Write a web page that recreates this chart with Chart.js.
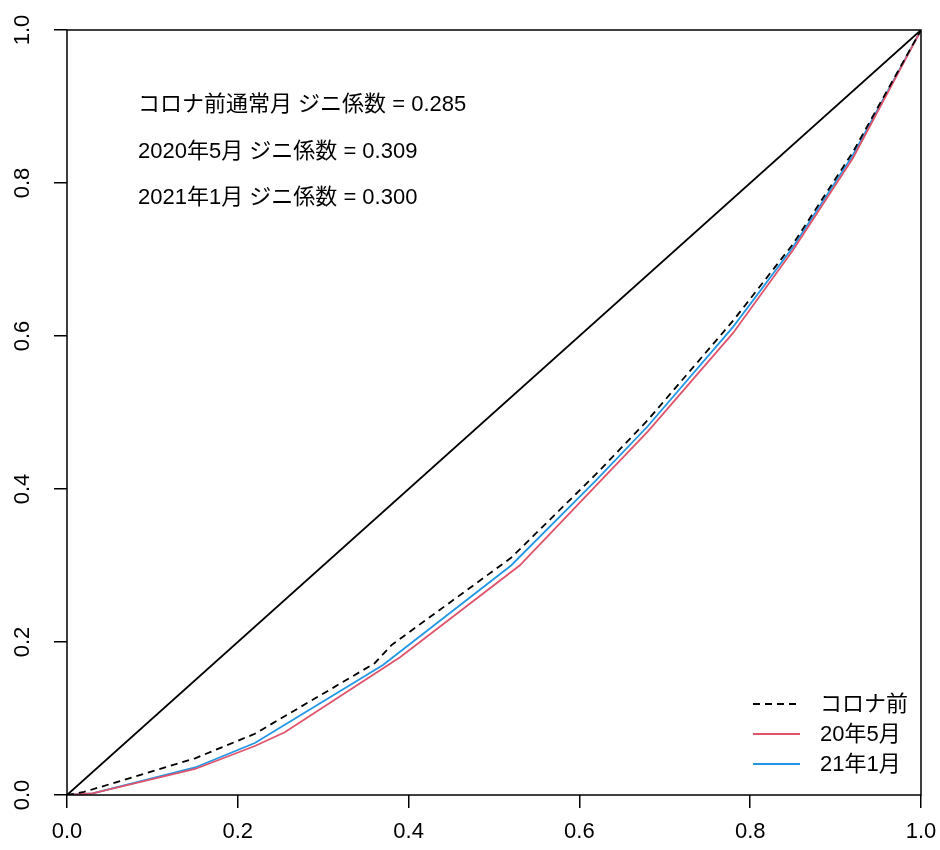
<!DOCTYPE html>
<html>
<head>
<meta charset="utf-8">
<script src="https://cdn.jsdelivr.net/npm/chart.js@4"></script>
<style>
  html, body { margin: 0; padding: 0; background: #fff; }
  #wrap { width: 940px; height: 850px; }
</style>
</head>
<body>
<div id="wrap"><canvas id="lorenz" width="940" height="850"></canvas></div>
<script>
// Lorenz curves: cumulative share of population (x) vs cumulative share of income (y)
const equalityX = [0, 1];
const equalityY = [0, 1];

const preCovidX = [0, 0.02, 0.15, 0.22, 0.36, 0.38, 0.52, 0.62, 0.68, 0.78, 0.85, 0.92, 1.0];
const preCovidY = [0, 0.004, 0.048, 0.080, 0.172, 0.196, 0.310, 0.420, 0.490, 0.620, 0.720, 0.840, 1.0];

const may2020X = [0, 0.03, 0.15, 0.22, 0.255, 0.39, 0.53, 0.62, 0.68, 0.78, 0.85, 0.92, 1.0];
const may2020Y = [0, 0.002, 0.034, 0.064, 0.082, 0.180, 0.300, 0.405, 0.475, 0.604, 0.712, 0.832, 1.0];

const jan2021X = [0, 0.03, 0.15, 0.22, 0.37, 0.52, 0.62, 0.68, 0.78, 0.85, 0.92, 1.0];
const jan2021Y = [0, 0.002, 0.036, 0.068, 0.170, 0.300, 0.412, 0.482, 0.612, 0.716, 0.836, 1.0];

const seriesLabels = ['コロナ前', '20年5月', '21年1月'];
const giniLabels = [
  'コロナ前通常月 ジニ係数 = 0.285',
  '2020年5月 ジニ係数 = 0.309',
  '2021年1月 ジニ係数 = 0.300'
];

const xTicks = [0, 0.2, 0.4, 0.6, 0.8, 1.0];
const yTicks = [0, 0.2, 0.4, 0.6, 0.8, 1.0];

const toPoints = (xs, ys) => xs.map((x, i) => ({ x: x, y: ys[i] }));

const FONT = '"Liberation Sans", Arial, "Noto Sans CJK JP", sans-serif';

// Frame, Gini annotations and the legend box in the lower right
const overlay = {
  id: 'overlay',
  afterDraw(chart) {
    const ctx = chart.ctx;
    const a = chart.chartArea;
    ctx.save();
    ctx.strokeStyle = '#000';
    ctx.lineWidth = 1.5;
    ctx.strokeRect(a.left, a.top, a.right - a.left, a.bottom - a.top);

    ctx.fillStyle = '#000';
    ctx.font = '22px ' + FONT;
    ctx.textAlign = 'left';
    ctx.textBaseline = 'middle';
    const noteY = [105, 152, 198];
    giniLabels.forEach((t, i) => ctx.fillText(t, 138, noteY[i]));

    const rows = [704, 734, 764];
    const ds = chart.data.datasets.slice(1);
    ds.forEach((d, i) => {
      ctx.beginPath();
      ctx.strokeStyle = d.borderColor;
      ctx.lineWidth = d.borderWidth;
      ctx.setLineDash(d.borderDash || []);
      ctx.moveTo(753, rows[i]);
      ctx.lineTo(800, rows[i]);
      ctx.stroke();
      ctx.setLineDash([]);
      ctx.fillStyle = '#000';
      ctx.fillText(d.label, 820, rows[i] + 1);
    });
    ctx.restore();
  }
};

new Chart(document.getElementById('lorenz'), {
  type: 'scatter',
  data: {
    datasets: [
      {
        label: '完全平等線',
        data: toPoints(equalityX, equalityY),
        showLine: true, borderColor: '#000', borderWidth: 1.8,
        pointRadius: 0, fill: false
      },
      {
        label: seriesLabels[0],
        data: toPoints(preCovidX, preCovidY),
        showLine: true, borderColor: '#000', borderWidth: 1.8, borderDash: [7, 5],
        pointRadius: 0, fill: false
      },
      {
        label: seriesLabels[1],
        data: toPoints(may2020X, may2020Y),
        showLine: true, borderColor: '#DF536B', borderWidth: 1.8,
        pointRadius: 0, fill: false
      },
      {
        label: seriesLabels[2],
        data: toPoints(jan2021X, jan2021Y),
        showLine: true, borderColor: '#2297E6', borderWidth: 1.8,
        pointRadius: 0, fill: false
      }
    ]
  },
  options: {
    responsive: false,
    animation: false,
    layout: { padding: { top: 30, right: 19, left: 0, bottom: 0 } },
    plugins: { legend: { display: false }, tooltip: { enabled: false } },
    scales: {
      x: {
        type: 'linear', min: 0, max: 1,
        afterBuildTicks: s => { s.ticks = xTicks.map(v => ({ value: v })); },
        afterFit: s => { s.height = 55; s.paddingLeft = 0; s.paddingRight = 0; },
        grid: { drawOnChartArea: false, drawTicks: true, tickLength: 13, color: '#000', lineWidth: 1.5 },
        border: { display: false },
        ticks: {
          color: '#000', padding: 11, maxRotation: 0, minRotation: 0,
          font: { family: FONT, size: 22 },
          callback: v => Number(v).toFixed(1)
        }
      },
      y: {
        type: 'linear', min: 0, max: 1,
        afterBuildTicks: s => { s.ticks = yTicks.map(v => ({ value: v })); },
        afterFit: s => { s.width = 67; s.paddingTop = 0; s.paddingBottom = 0; },
        grid: { drawOnChartArea: false, drawTicks: true, tickLength: 13, color: '#000', lineWidth: 1.5 },
        border: { display: false },
        ticks: {
          color: '#000', padding: 16, minRotation: 90, maxRotation: 90, crossAlign: 'center',
          font: { family: FONT, size: 22 },
          callback: v => Number(v).toFixed(1)
        }
      }
    }
  },
  plugins: [overlay]
});
</script>
</body>
</html>
